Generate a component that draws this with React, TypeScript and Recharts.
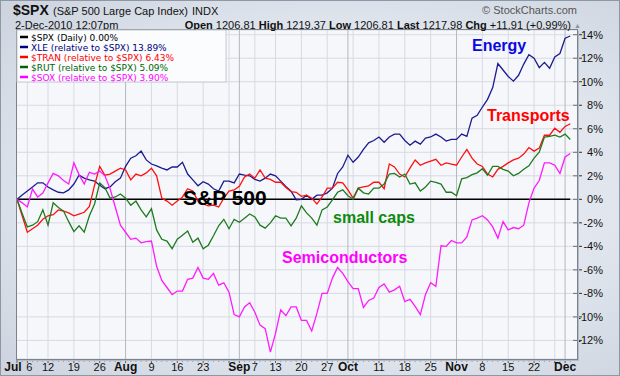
import React from 'react';
import { LineChart, Line, XAxis, YAxis, CartesianGrid, ReferenceLine } from 'recharts';

// Trading days Jul 1 2010 – Dec 2 2010
const months = ['Jul', 'Aug', 'Sep', 'Oct', 'Nov', 'Dec'];
const julDays = [1, 2, 6, 7, 8, 9, 12, 13, 14, 15, 16, 19, 20, 21, 22, 23, 26, 27, 28, 29, 30];
const augDays = [2, 3, 4, 5, 6, 9, 10, 11, 12, 13, 16, 17, 18, 19, 20, 23, 24, 25, 26, 27, 30, 31];
const sepDays = [1, 2, 3, 7, 8, 9, 10, 13, 14, 15, 16, 17, 20, 21, 22, 23, 24, 27, 28, 29, 30];
const octDays = [1, 4, 5, 6, 7, 8, 11, 12, 13, 14, 15, 18, 19, 20, 21, 22, 25, 26, 27, 28, 29];
const novDays = [1, 2, 3, 4, 5, 8, 9, 10, 11, 12, 15, 16, 17, 18, 19, 22, 23, 24, 26, 29, 30];
const decDays = [1, 2];
const monthDays = [julDays, augDays, sepDays, octDays, novDays, decDays];

// Performance relative to $SPX (%)
const xle = [
  0, 0.37, 0.7, 1.05, 1.4, 1.4, 1.05, 0.8, 0.6, 0.55,
  0.8, 1.3, 2.05, 1.8, 1.65, 1.55, 1.2, 0.9, 1.05, 1.5,
  1.8, 2.8, 3.5, 3.7, 4.1, 3.35, 3.0, 2.85, 2.65, 2.5,
  2.75, 2.75, 3.15, 2.15, 1.65, 1.15, 1.5, 1.3, 0.9, 0.7,
  1.55, 1.55, 1.4, 2.15, 2.05, 2.0, 1.7, 1.55, 1.8, 2.15,
  2.0, 1.55, 1.1, 0.7, -0.05, 0.0, 0.35, 0.0, 0.35, 0.35,
  0.55, 0.95, 2.2, 2.75, 3.75, 3.15, 3.6, 4.25, 4.8, 5.0,
  5.3, 4.85, 5.3, 5.55, 5.55, 5.0, 4.6, 4.95, 4.7, 5.2,
  5.3, 5.55, 5.3, 4.95, 5.1, 5.1, 5.55, 5.35, 6.9, 7.15,
  7.85, 8.5, 9.5, 11.55, 11.0, 10.45, 10.05, 10.55, 11.5, 12.3,
  12.0, 11.2, 11.65, 11.15, 12.1, 12.4, 13.7, 13.89,
];
const tran = [
  0, -1.4, -2.8, -2.5, -2.2, -1.7, -1.4, -1.3, -0.9, -1.0,
  -1.15, -1.4, -1.25, -1.1, -0.6, 1.2, 2.8, 2.05, 2.15, 2.4,
  2.65, 2.5, 1.65, 2.15, 2.0, 2.25, 2.65, 2.0, 0.1, -0.15,
  -0.5, -0.15, 0.2, 0.9, 0.7, -0.15, -0.4, -0.55, -0.5, -0.65,
  0.1, 0.7, 0.8, 1.1, 1.9, 2.15, 1.8, 2.5, 1.8, 1.7,
  1.45, 1.45, 1.0, 0.65, 0.6, 0.25, 0.35, 0.1, -0.4, 0.2,
  0.95, 0.95, 1.45, 1.4, 0.8, 0.1, 0.95, 1.05, 1.15, 1.45,
  1.45, 0.9, 3.0, 2.75, 2.15, 1.9, 2.65, 3.35, 2.9, 3.1,
  3.25, 3.4, 2.9, 3.1, 3.0, 2.9, 3.6, 4.25, 3.5, 3.0,
  2.8, 2.15, 1.9, 2.55, 2.8, 3.1, 3.35, 3.5, 3.85, 4.4,
  4.1, 4.35, 5.45, 5.45, 6.05, 5.7, 6.2, 6.43,
];
const rut = [
  0, -1.2, -2.35, -2.2, -1.9, -0.9, -2.2, -0.3, -0.7, -1.0,
  -1.9, -2.75, -2.25, -2.8, -1.4, -0.4, 1.4, 1.0, 0.1, 0.2,
  0.45, 0.1, -0.5, -0.15, -0.9, -1.5, -0.8, -2.6, -3.4, -3.55,
  -4.2, -3.4, -3.05, -2.7, -3.65, -3.3, -4.2, -3.9, -3.1, -2.25,
  -1.7, -2.5, -1.7, -1.95, -1.6, -1.25, -1.5, -2.2, -2.45, -2.0,
  -1.4, -1.6, -1.6, -2.25, -1.6, -0.55, -1.15, -1.6, -2.2, -0.9,
  -0.65, -0.05, 0.6, 0.8, 0.3, 0.0, 0.95, 0.55, 0.45, 0.95,
  0.95, 1.3, 2.15, 2.2, 1.9, 2.15, 1.3, 1.4, 0.7, 1.05,
  1.55, 1.45, 1.3, 0.6, 0.6, 0.3, 1.75, 1.85, 2.1, 2.25,
  2.6, 2.05, 2.8, 2.8, 2.55, 2.4, 2.0, 2.2, 2.55, 2.85,
  3.5, 4.0, 5.3, 5.35, 5.45, 5.3, 5.55, 5.09,
];
const sox = [
  0, -0.3, -0.65, 0.87, 0.2, 0.53, 1.4, 2.2, 2.0, 1.6,
  1.3, 3.1, 2.1, 1.3, 2.3, 2.15, 2.4, 2.0, 0.9, -0.65,
  -2.2, -2.8, -3.4, -3.3, -3.7, -3.6, -3.55, -5.7, -6.9, -7.5,
  -8.1, -7.8, -7.8, -6.8, -6.7, -5.8, -6.7, -6.8, -6.3, -7.3,
  -7.1, -7.9, -9.8, -10.0, -9.15, -8.8, -9.6, -10.7, -11.0, -13.0,
  -11.4, -9.4, -9.9, -9.15, -9.15, -10.3, -10.3, -11.2, -9.7, -8.0,
  -8.0, -6.7, -5.8, -6.3, -7.0, -7.6, -7.6, -9.2, -8.6, -8.4,
  -7.5, -7.2, -7.9, -7.7, -7.4, -8.7, -8.5, -9.1, -9.8, -8.1,
  -7.1, -7.4, -3.95, -4.0, -3.5, -3.7, -3.7, -3.2, -1.75, -1.6,
  -1.4, -1.75, -2.35, -3.3, -1.9, -2.6, -2.4, -2.5, -2.2, -0.3,
  0.95, 1.6, 3.1, 3.1, 2.9, 2.2, 3.6, 3.9,
];

// Axis ticks / labels
const tickIdx = [0, 2, 6, 11, 16, 21, 26, 31, 36, 41, 43, 46, 50, 55, 60, 64, 65, 70, 75, 80, 85, 90, 95, 100, 104, 106];
const tickText = ['Jul', '6', '12', '19', '26', 'Aug', '9', '16', '23', '', 'Sep', '7', '13', '20', '27', 'Oct', '', '11', '18', '25', 'Nov', '8', '15', '22', '', 'Dec'];
const weekLineIdx = [2, 6, 11, 16, 26, 31, 36, 41, 46, 50, 55, 60, 65, 70, 75, 80, 90, 95, 100, 104];
const monthLineIdx = [21, 43, 64, 85, 106];
const monthTickIdx = [0, 21, 43, 64, 85, 106];
const yTicks = [-12, -10, -8, -6, -4, -2, 0, 2, 4, 6, 8, 10, 12, 14];

const legendLabels = [
  '$SPX (Daily) 0.00%',
  'XLE (relative to $SPX) 13.89%',
  '$TRAN (relative to $SPX) 6.43%',
  '$RUT (relative to $SPX) 5.09%',
  '$SOX (relative to $SPX) 3.90%',
];
const legendColors = ['#000000', '#00007a', '#ff0000', '#006400', '#ff00ff'];

const dates: string[] = [];
monthDays.forEach((days, m) => days.forEach((d) => dates.push(`${months[m]} ${d}`)));
const data = dates.map((date, i) => ({ i, date, xle: xle[i], tran: tran[i], rut: rut[i], sox: sox[i] }));
const allIdx = data.map((d) => d.i);

const FONT = '"Liberation Sans", Arial, sans-serif';

const XTick = (props: any) => {
  const { x, y, payload } = props;
  const v = payload.value;
  const k = tickIdx.indexOf(v);
  const label = k >= 0 ? tickText[k] : '';
  const isMonth = monthTickIdx.includes(v);
  return (
    <g>
      <line x1={x} x2={x} y1={y + 1} y2={y + (k >= 0 ? 4 : 2.5)} stroke="#5a5f68" strokeWidth={1} />
      {label ? (
        <text
          x={x + (v === 0 ? -4 : v === 2 ? 2 : 0)}
          y={y + 12}
          textAnchor="middle"
          fontSize={isMonth ? 12 : 11}
          fontWeight={isMonth ? 'bold' : 'normal'}
          fill="#111"
          fontFamily={FONT}
        >
          {label}
        </text>
      ) : null}
    </g>
  );
};

const YTick = (props: any) => {
  const { x, y, payload } = props;
  return (
    <g>
      <line x1={x - 4} x2={x} y1={y} y2={y} stroke="#6a707a" strokeWidth={1} />
      <line x1={x + 1} x2={x + 5} y1={y} y2={y} stroke="#333" strokeWidth={1} />
      <text x={x + 26} y={y + 4} textAnchor="end" fontSize={11} fill="#111" fontFamily={FONT}>
        {`${payload.value}%`}
      </text>
    </g>
  );
};

export default function App() {
  return (
    <div
      style={{
        position: 'absolute',
        left: 0,
        top: 0,
        width: 620,
        height: 376,
        overflow: 'hidden',
        background: 'radial-gradient(ellipse 75% 70% at 55% 50%, #eef2f9 0%, #e2e7ef 55%, #cdd4df 100%)',
        boxShadow: 'inset 0 0 0 1px #8e97a4',
        fontFamily: FONT,
      }}
    >
      <div style={{ position: 'absolute', left: 0, top: 0 }}>
        <LineChart width={620} height={376} data={data} margin={{ top: 30, right: 0, bottom: 0, left: 17 }}>
          <CartesianGrid vertical={false} stroke="#d6dae2" fill="#f6f7fb" />
          {weekLineIdx.map((w) => (
            <ReferenceLine key={`w${w}`} x={w} stroke="#d6dae2" strokeWidth={1} />
          ))}
          {monthLineIdx.map((m) => (
            <ReferenceLine key={`m${m}`} x={m} stroke="#b3b8c2" strokeWidth={1} />
          ))}
          <XAxis
            dataKey="i"
            type="number"
            domain={[0, 108.3]}
            allowDataOverflow
            ticks={allIdx}
            interval={0}
            tick={<XTick />}
            tickLine={false}
            axisLine={false}
            tickSize={0}
            tickMargin={0}
            height={17}
          />
          <YAxis
            orientation="right"
            type="number"
            domain={[-13.58, 14.4]}
            allowDataOverflow
            ticks={yTicks}
            interval={0}
            tick={<YTick />}
            tickLine={false}
            axisLine={false}
            tickSize={0}
            tickMargin={0}
            width={43}
          />
          <ReferenceLine
            segment={[
              { x: 0, y: 0 },
              { x: 107, y: 0 },
            ]}
            stroke="#000"
            strokeWidth={1.4}
          />
          <Line type="linear" dataKey="xle" stroke="#1c1c8e" strokeWidth={1.3} dot={false} isAnimationActive={false} />
          <Line type="linear" dataKey="tran" stroke="#ff1010" strokeWidth={1.3} dot={false} isAnimationActive={false} />
          <Line type="linear" dataKey="rut" stroke="#1f7a1f" strokeWidth={1.3} dot={false} isAnimationActive={false} />
          <Line type="linear" dataKey="sox" stroke="#ff1aff" strokeWidth={1.3} dot={false} isAnimationActive={false} />
        </LineChart>
      </div>
      <svg
        width={620}
        height={376}
        style={{ position: 'absolute', left: 0, top: 0, pointerEvents: 'none' }}
        fontFamily={FONT}
      >
        {/* plot frame */}
        <rect x={16.5} y={29.5} width={561} height={330} fill="none" stroke="#7c828c" strokeWidth={1} />
        <line x1={578.5} y1={31} x2={578.5} y2={361} stroke="#b5bcc6" />
        <line x1={18} y1={360.5} x2={578} y2={360.5} stroke="#b5bcc6" />

        {/* header */}
        <text x={13} y={15} fontSize={14} fontWeight="bold" fill="#111">$SPX</text>
        <text x={53} y={15} fontSize={11} fill="#111">(S&amp;P 500 Large Cap Index)</text>
        <text x={192} y={15} fontSize={11} fill="#111">INDX</text>
        <text x={577} y={14} fontSize={11} fill="#555" textAnchor="end">© StockCharts.com</text>
        <text x={15} y={28.5} fontSize={11} fill="#111">2-Dec-2010 12:07pm</text>
        <text x={571} y={28.5} fontSize={11} fill="#111" textAnchor="end">
          <tspan fontWeight="bold">Open</tspan> 1206.81 <tspan fontWeight="bold">High</tspan> 1219.37{' '}
          <tspan fontWeight="bold">Low</tspan> 1206.81 <tspan fontWeight="bold">Last</tspan> 1217.98{' '}
          <tspan fontWeight="bold">Chg</tspan> +11.91 (+0.99%)
        </text>
        <text x={574} y={27.5} fontSize={7} fill="#8a93a3">▲</text>

        {/* legend */}
        <rect x={17} y={30} width={209} height={52} fill="#fbfcfe" stroke="#c3c8d0" strokeWidth={1} />
        {legendLabels.map((lab, k) => (
          <g key={lab}>
            <line x1={20} x2={28} y1={37 + k * 10} y2={37 + k * 10} stroke={legendColors[k]} strokeWidth={2.5} />
            <text x={31} y={40.5 + k * 10} fontSize={9} fill={legendColors[k]} fontFamily='"DejaVu Sans", Verdana, sans-serif'>
              {lab}
            </text>
          </g>
        ))}

        {/* annotations */}
        <text x={472} y={51} fontSize={16} fontWeight="bold" fill="#0a0ae0">Energy</text>
        <text x={487} y={121} fontSize={16} fontWeight="bold" fill="#ff0000">Transports</text>
        <text x={183} y={205} fontSize={21} fontWeight="bold" fill="#000">S&amp;P 500</text>
        <text x={333} y={223} fontSize={16} fontWeight="bold" fill="#0c8a0c">small caps</text>
        <text x={282} y={263} fontSize={16} fontWeight="bold" fill="#ff00ff">Semiconductors</text>
      </svg>
    </div>
  );
}
